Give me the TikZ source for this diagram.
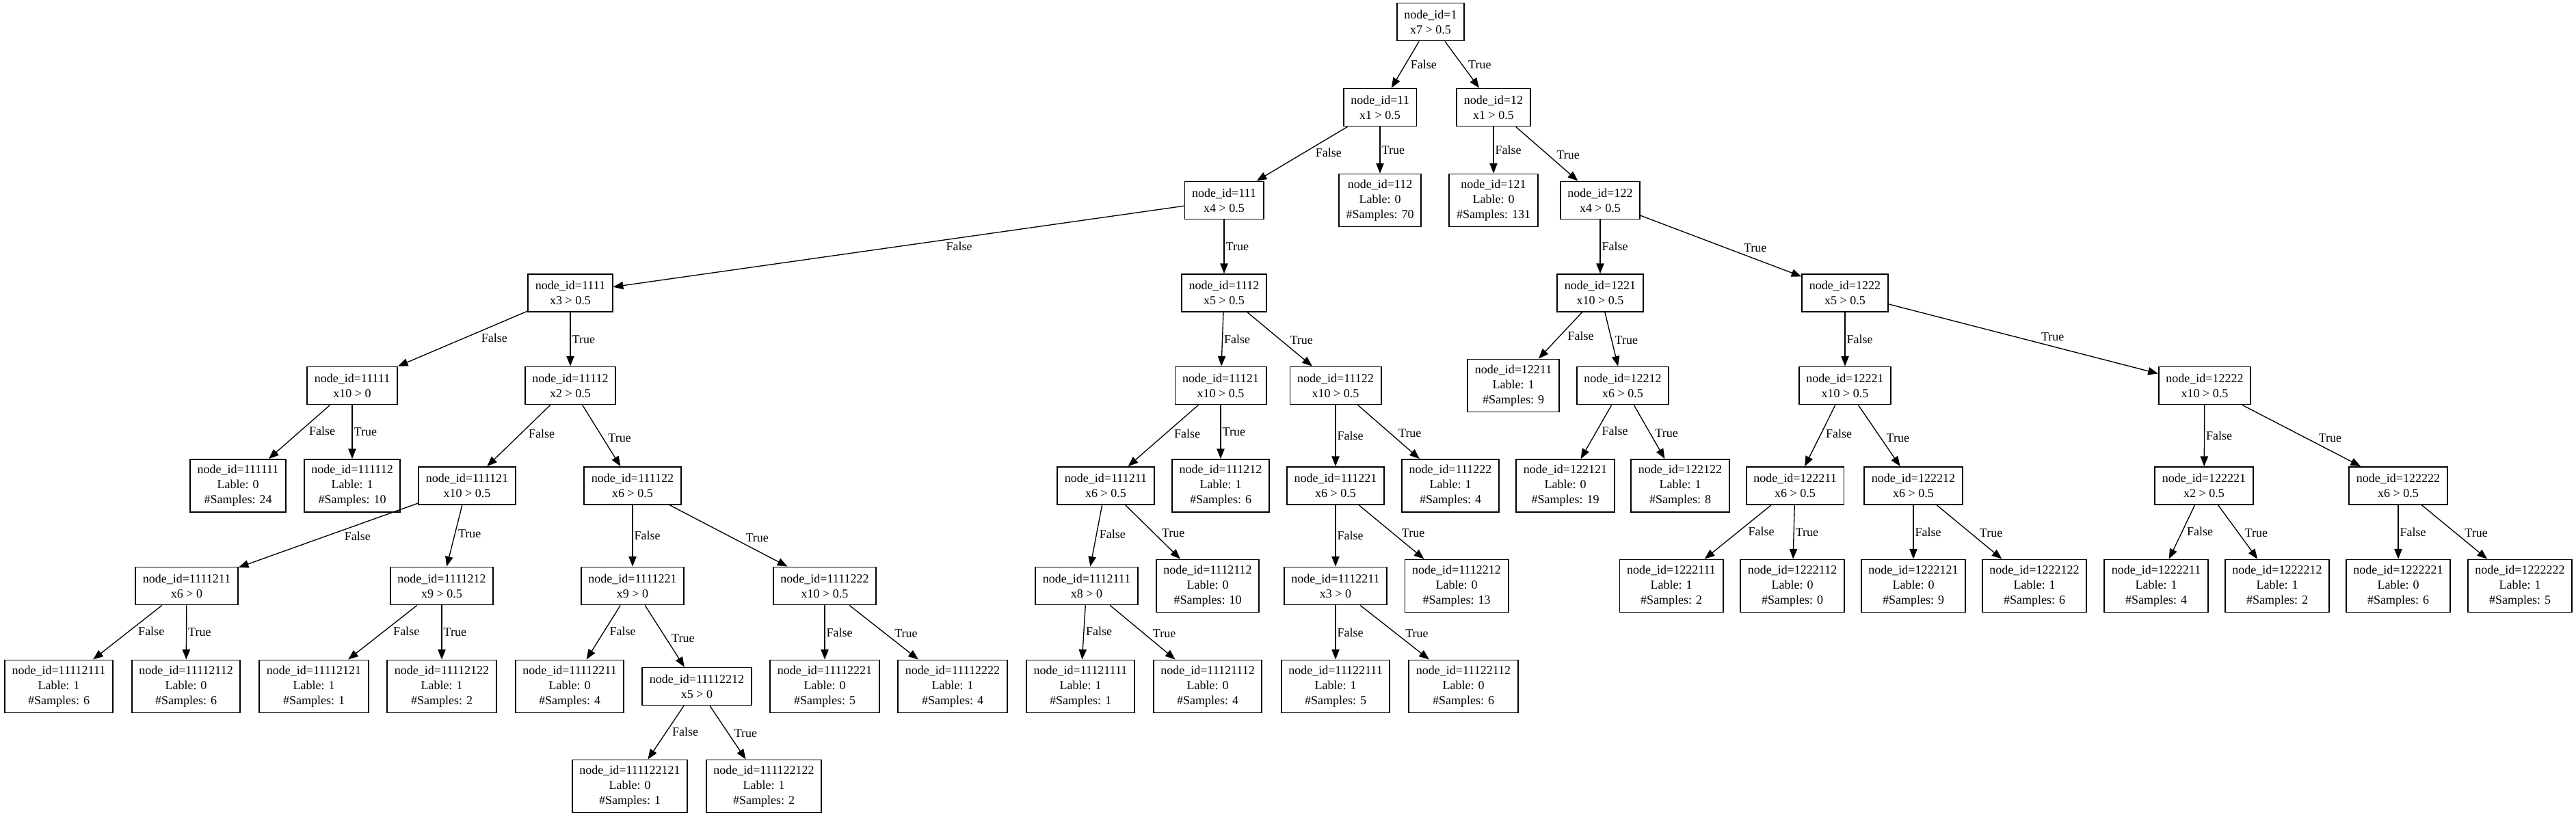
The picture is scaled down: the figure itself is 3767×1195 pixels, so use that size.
\documentclass[tikz,border=0pt]{standalone}
\usepackage{fontspec}
\setmainfont{Liberation Serif}
\usetikzlibrary{arrows.meta}
\newcommand{\nid}[1]{node\_id=#1}
\newcommand{\lbl}[2]{Lable: #1\\\#Samples: #2}
\tikzset{
  dt/.style={x=0.75pt, y=-0.75pt, every node/.style={font=\fontsize{13.5}{16.5}\selectfont}},
  cond/.style={draw, line width=1.4pt, align=center, inner xsep=8pt, inner ysep=0pt, minimum width=72pt, minimum height=41.25pt},
  leaf/.style={cond, minimum height=57.75pt},
  branch/.style={draw, line width=1pt, -{Triangle[length=11pt, width=8.5pt]}},
  dl/.style={anchor=north west, pos=#1, inner sep=1.5pt}, dl/.default=.37,
  dr/.style={anchor=south west, pos=#1, inner sep=1.5pt}, dr/.default=.63,
  dv/.style={anchor=west, pos=.5, inner sep=1.5pt}
}

\begin{document}
\begin{tikzpicture}[dt]
\useasboundingbox (0,0) rectangle (3767,1195);
% rank 0-3
\node[cond] (n1) at (2092,32) {\nid{1}\\x7 > 0.5};
\node[cond] (n11) at (2018,157) {\nid{11}\\x1 > 0.5};
\node[cond] (n12) at (2184,157) {\nid{12}\\x1 > 0.5};
\node[cond] (n111) at (1790,293) {\nid{111}\\x4 > 0.5};
\node[leaf] (n112) at (2018,293) {\nid{112}\\\lbl{0}{70}};
\node[leaf] (n121) at (2184,293) {\nid{121}\\\lbl{0}{131}};
\node[cond] (n122) at (2340,293) {\nid{122}\\x4 > 0.5};
\node[cond] (n1111) at (834,428.5) {\nid{1111}\\x3 > 0.5};
\node[cond] (n1112) at (1790,428.5) {\nid{1112}\\x5 > 0.5};
\node[cond] (n1221) at (2340,428.5) {\nid{1221}\\x10 > 0.5};
\node[cond] (n1222) at (2698,428.5) {\nid{1222}\\x5 > 0.5};
% rank 4
\node[cond] (n11111) at (515,564) {\nid{11111}\\x10 > 0};
\node[cond] (n11112) at (834,564) {\nid{11112}\\x2 > 0.5};
\node[cond] (n11121) at (1785,564) {\nid{11121}\\x10 > 0.5};
\node[cond] (n11122) at (1953,564) {\nid{11122}\\x10 > 0.5};
\node[leaf] (n12211) at (2213,564) {\nid{12211}\\\lbl{1}{9}};
\node[cond] (n12212) at (2373,564) {\nid{12212}\\x6 > 0.5};
\node[cond] (n12221) at (2698,564) {\nid{12221}\\x10 > 0.5};
\node[cond] (n12222) at (3224,564) {\nid{12222}\\x10 > 0.5};
% rank 5
\node[leaf] (n111111) at (348,710.5) {\nid{111111}\\\lbl{0}{24}};
\node[leaf] (n111112) at (515,710.5) {\nid{111112}\\\lbl{1}{10}};
\node[cond] (n111121) at (683,710.5) {\nid{111121}\\x10 > 0.5};
\node[cond] (n111122) at (925,710.5) {\nid{111122}\\x6 > 0.5};
\node[cond] (n111211) at (1617,710.5) {\nid{111211}\\x6 > 0.5};
\node[leaf] (n111212) at (1785,710.5) {\nid{111212}\\\lbl{1}{6}};
\node[cond] (n111221) at (1953,710.5) {\nid{111221}\\x6 > 0.5};
\node[leaf] (n111222) at (2121,710.5) {\nid{111222}\\\lbl{1}{4}};
\node[leaf] (n122121) at (2289,710.5) {\nid{122121}\\\lbl{0}{19}};
\node[leaf] (n122122) at (2457,710.5) {\nid{122122}\\\lbl{1}{8}};
\node[cond] (n122211) at (2625,710.5) {\nid{122211}\\x6 > 0.5};
\node[cond] (n122212) at (2798,710.5) {\nid{122212}\\x6 > 0.5};
\node[cond] (n122221) at (3223,710.5) {\nid{122221}\\x2 > 0.5};
\node[cond] (n122222) at (3507,710.5) {\nid{122222}\\x6 > 0.5};
% rank 6
\node[cond] (n1111211) at (273,857) {\nid{1111211}\\x6 > 0};
\node[cond] (n1111212) at (646,857) {\nid{1111212}\\x9 > 0.5};
\node[cond] (n1111221) at (925,857) {\nid{1111221}\\x9 > 0};
\node[cond] (n1111222) at (1206,857) {\nid{1111222}\\x10 > 0.5};
\node[cond] (n1112111) at (1589,857) {\nid{1112111}\\x8 > 0};
\node[leaf] (n1112112) at (1766,857) {\nid{1112112}\\\lbl{0}{10}};
\node[cond] (n1112211) at (1953,857) {\nid{1112211}\\x3 > 0};
\node[leaf] (n1112212) at (2130,857) {\nid{1112212}\\\lbl{0}{13}};
\node[leaf] (n1222111) at (2444,857) {\nid{1222111}\\\lbl{1}{2}};
\node[leaf] (n1222112) at (2621,857) {\nid{1222112}\\\lbl{0}{0}};
\node[leaf] (n1222121) at (2798,857) {\nid{1222121}\\\lbl{0}{9}};
\node[leaf] (n1222122) at (2975,857) {\nid{1222122}\\\lbl{1}{6}};
\node[leaf] (n1222211) at (3153,857) {\nid{1222211}\\\lbl{1}{4}};
\node[leaf] (n1222212) at (3330,857) {\nid{1222212}\\\lbl{1}{2}};
\node[leaf] (n1222221) at (3507,857) {\nid{1222221}\\\lbl{0}{6}};
\node[leaf] (n1222222) at (3685,857) {\nid{1222222}\\\lbl{1}{5}};
% rank 7-8
\node[leaf] (n11112111) at (86,1004) {\nid{11112111}\\\lbl{1}{6}};
\node[leaf] (n11112112) at (272,1004) {\nid{11112112}\\\lbl{0}{6}};
\node[leaf] (n11112121) at (459,1004) {\nid{11112121}\\\lbl{1}{1}};
\node[leaf] (n11112122) at (646,1004) {\nid{11112122}\\\lbl{1}{2}};
\node[leaf] (n11112211) at (833,1004) {\nid{11112211}\\\lbl{0}{4}};
\node[cond] (n11112212) at (1019,1004) {\nid{11112212}\\x5 > 0};
\node[leaf] (n11112221) at (1206,1004) {\nid{11112221}\\\lbl{0}{5}};
\node[leaf] (n11112222) at (1393,1004) {\nid{11112222}\\\lbl{1}{4}};
\node[leaf] (n11121111) at (1580,1004) {\nid{11121111}\\\lbl{1}{1}};
\node[leaf] (n11121112) at (1766,1004) {\nid{11121112}\\\lbl{0}{4}};
\node[leaf] (n11122111) at (1953,1004) {\nid{11122111}\\\lbl{1}{5}};
\node[leaf] (n11122112) at (2140,1004) {\nid{11122112}\\\lbl{0}{6}};
\node[leaf] (n111122121) at (921,1150) {\nid{111122121}\\\lbl{0}{1}};
\node[leaf] (n111122122) at (1117,1150) {\nid{111122122}\\\lbl{1}{2}};
% branches
\path (n1) edge[branch] node[dl] {False} (n11) edge[branch] node[dr] {True} (n12);
\path (n11) edge[branch] node[dl] {False} (n111) edge[branch] node[dv] {True} (n112);
\path (n12) edge[branch] node[dv] {False} (n121) edge[branch] node[dr] {True} (n122);
\path (n111) edge[branch] node[dl=.42] {False} (n1111) edge[branch] node[dv] {True} (n1112);
\path (n122) edge[branch] node[dv] {False} (n1221) edge[branch] node[dr] {True} (n1222);
\path (n1111) edge[branch] node[dl] {False} (n11111) edge[branch] node[dv] {True} (n11112);
\path (n1112) edge[branch] node[dv] {False} (n11121) edge[branch] node[dr] {True} (n11122);
\path (n1221) edge[branch] node[dl] {False} (n12211) edge[branch] node[dr] {True} (n12212);
\path (n1222) edge[branch] node[dv] {False} (n12221) edge[branch] node[dr=.56] {True} (n12222);
\path (n11111) edge[branch] node[dl] {False} (n111111) edge[branch] node[dv] {True} (n111112);
\path (n11112) edge[branch] node[dl] {False} (n111121) edge[branch] node[dr] {True} (n111122);
\path (n11121) edge[branch] node[dl] {False} (n111211) edge[branch] node[dv] {True} (n111212);
\path (n11122) edge[branch] node[dv] {False} (n111221) edge[branch] node[dr] {True} (n111222);
\path (n12212) edge[branch] node[dl] {False} (n122121) edge[branch] node[dr] {True} (n122122);
\path (n12221) edge[branch] node[dl] {False} (n122211) edge[branch] node[dr] {True} (n122212);
\path (n12222) edge[branch] node[dv] {False} (n122221) edge[branch] node[dr] {True} (n122222);
\path (n111121) edge[branch] node[dl=.42] {False} (n1111211) edge[branch] node[dl] {True} (n1111212);
\path (n111122) edge[branch] node[dv] {False} (n1111221) edge[branch] node[dr] {True} (n1111222);
\path (n111211) edge[branch] node[dl] {False} (n1112111) edge[branch] node[dr] {True} (n1112112);
\path (n111221) edge[branch] node[dv] {False} (n1112211) edge[branch] node[dr] {True} (n1112212);
\path (n122211) edge[branch] node[dl] {False} (n1222111) edge[branch] node[dv] {True} (n1222112);
\path (n122212) edge[branch] node[dv] {False} (n1222121) edge[branch] node[dr] {True} (n1222122);
\path (n122221) edge[branch] node[dl] {False} (n1222211) edge[branch] node[dr] {True} (n1222212);
\path (n122222) edge[branch] node[dv] {False} (n1222221) edge[branch] node[dr] {True} (n1222222);
\path (n1111211) edge[branch] node[dl] {False} (n11112111) edge[branch] node[dv] {True} (n11112112);
\path (n1111212) edge[branch] node[dl] {False} (n11112121) edge[branch] node[dv] {True} (n11112122);
\path (n1111221) edge[branch] node[dl] {False} (n11112211) edge[branch] node[dr] {True} (n11112212);
\path (n1111222) edge[branch] node[dv] {False} (n11112221) edge[branch] node[dr] {True} (n11112222);
\path (n1112111) edge[branch] node[dl] {False} (n11121111) edge[branch] node[dr] {True} (n11121112);
\path (n1112211) edge[branch] node[dv] {False} (n11122111) edge[branch] node[dr] {True} (n11122112);
\path (n11112212) edge[branch] node[dl] {False} (n111122121) edge[branch] node[dr] {True} (n111122122);
\end{tikzpicture}
\end{document}
